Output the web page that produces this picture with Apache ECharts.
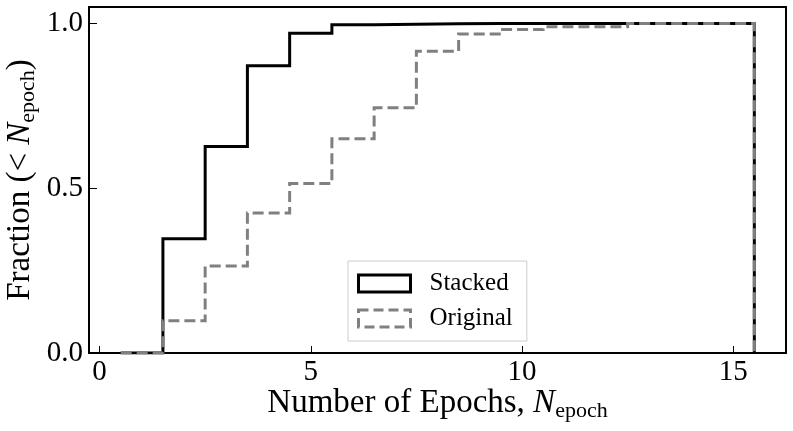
<!DOCTYPE html>
<html>
<head>
<meta charset="utf-8">
<script src="https://cdn.jsdelivr.net/npm/echarts@6/dist/echarts.min.js"></script>
<style>
html,body{margin:0;padding:0;background:#fff;}
#chart{width:793px;height:431px;}
</style>
</head>
<body>
<div id="chart"></div>
<script>
// Bin edges of the cumulative histogram (N_epoch)
const binEdges = [0.5, 1.5, 2.5, 3.5, 4.5, 5.5, 6.5, 7.5, 8.5, 9.5, 10.5, 11.5, 12.5, 13.5, 14.5, 15.5];
// Cumulative fraction per bin
const stackedValues  = [0, 0.347, 0.627, 0.872, 0.970, 0.996, 0.998, 0.999, 1.0, 1.0, 1.0, 1.0, 1.0, 1.0, 1.0];
const originalValues = [0, 0.098, 0.264, 0.425, 0.514, 0.650, 0.744, 0.916, 0.968, 0.982, 0.990, 0.990, 1.0, 1.0, 1.0];
const seriesNames = ['Stacked', 'Original'];
const xTicks = [0, 5, 10, 15];
const yTicks = [0, 0.5, 1.0];

function stepPoints(edges, vals) {
  const pts = [[edges[0], 0]];
  for (let i = 0; i < vals.length; i++) {
    pts.push([edges[i], vals[i]]);
    pts.push([edges[i + 1], vals[i]]);
  }
  pts.push([edges[edges.length - 1], 0]);
  return pts;
}

const FONT = 'Liberation Serif';
const richName = {
  a: {fontFamily: FONT, fontSize: 33, color: '#000', lineHeight: 37},
  i: {fontFamily: FONT, fontSize: 33, fontStyle: 'italic', color: '#000', lineHeight: 37},
  s: {fontFamily: FONT, fontSize: 22, color: '#000', verticalAlign: 'bottom'}
};

const chart = echarts.init(document.getElementById('chart'), null, {renderer: 'canvas'});
chart.setOption({
  animation: false,
  backgroundColor: '#fff',
  grid: {
    left: 89, right: 7, top: 7, bottom: 78,
    show: true, borderColor: '#000', borderWidth: 2,
    outerBoundsMode: 'none'
  },
  legend: {
    orient: 'vertical',
    left: 348, top: 261,
    itemWidth: 52, itemHeight: 17, itemGap: 10,
    padding: [10, 14, 10, 9],
    borderColor: '#cccccc', borderWidth: 1, borderRadius: 0,
    backgroundColor: '#fff',
    selectedMode: false,
    textStyle: {fontFamily: FONT, fontSize: 25, color: '#000', lineHeight: 17, padding: [0, 0, 0, 14]},
    data: [
      {name: seriesNames[0], icon: 'rect', itemStyle: {color: '#fff', borderColor: '#000', borderWidth: 3}},
      {name: seriesNames[1], icon: 'rect', itemStyle: {color: '#fff', borderColor: '#808080', borderWidth: 3, borderType: [10, 5]}}
    ]
  },
  xAxis: {
    type: 'value', min: -0.25, max: 16.25,
    axisLine: {show: false, onZero: false},
    splitLine: {show: false},
    axisTick: {show: true, inside: true, length: 7, lineStyle: {color: '#000', width: 1}, customValues: xTicks},
    axisLabel: {customValues: xTicks, fontFamily: FONT, fontSize: 29, color: '#000', margin: 5},
    name: '{a|Number of Epochs, }{i|N}{s|epoch}',
    nameLocation: 'middle', nameGap: 32, nameMoveOverlap: false,
    nameTextStyle: {rich: richName}
  },
  yAxis: {
    type: 'value', min: 0, max: 1.05,
    axisLine: {show: false, onZero: false},
    splitLine: {show: false},
    axisTick: {show: true, inside: true, length: 8, lineStyle: {color: '#000', width: 1}, customValues: yTicks},
    axisLabel: {customValues: yTicks, fontFamily: FONT, fontSize: 29, color: '#000', margin: 6,
      formatter: v => v.toFixed(1)},
    name: '{a|Fraction (< }{i|N}{s|epoch}{a|)}',
    nameLocation: 'middle', nameGap: 50, nameRotate: 90, nameMoveOverlap: false,
    nameTextStyle: {rich: richName}
  },
  series: [
    {
      name: seriesNames[0], type: 'line', symbol: 'none', showSymbol: false,
      data: stepPoints(binEdges, stackedValues),
      itemStyle: {color: '#000'},
      lineStyle: {color: '#000', width: 3, join: 'miter', cap: 'butt'},
      z: 2
    },
    {
      name: seriesNames[1], type: 'line', symbol: 'none', showSymbol: false,
      data: stepPoints(binEdges, originalValues),
      itemStyle: {color: '#808080'},
      lineStyle: {color: '#808080', width: 3, type: [11, 5], join: 'miter', cap: 'butt'},
      z: 3
    }
  ]
});
</script>
</body>
</html>
